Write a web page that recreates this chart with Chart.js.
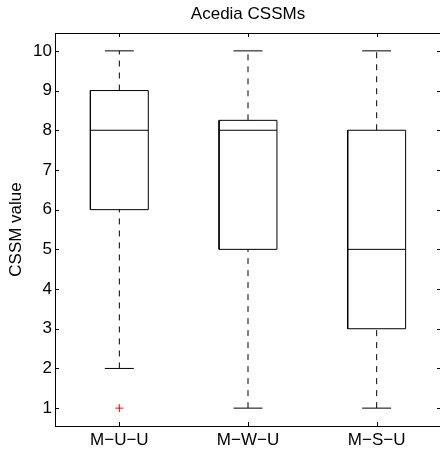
<!DOCTYPE html>
<html>
<head>
<meta charset="utf-8">
<script src="https://cdn.jsdelivr.net/npm/chart.js@4/dist/chart.umd.min.js"></script>
<style>
  html, body { margin: 0; padding: 0; background: #fff; overflow: hidden; }
  canvas { display: block; }
</style>
</head>
<body>
<canvas id="c" width="446" height="454"></canvas>
<script>
// ---- data ----
const categories   = ['M\u2212U\u2212U', 'M\u2212W\u2212U', 'M\u2212S\u2212U'];
const whiskerLow   = [2, 1, 1];
const q1           = [6, 5, 3];
const median       = [8, 8, 5];
const q3           = [9, 8.25, 8];
const whiskerHigh  = [10, 10, 10];
const outliers     = [[1], [], []];
const yTicks       = [1, 2, 3, 4, 5, 6, 7, 8, 9, 10];
const titleText    = 'Acedia CSSMs';
const yTitleText   = 'CSSM value';

// ---- styles ----
const BOX_HALF = 0.225;
const CAP_HALF = 0.1125;
const FONT = { family: '"Liberation Sans", Arial, Helvetica, sans-serif', size: 17, weight: 'normal' };
const INK = '#000';

const datasets = [];
const lineBase = { showLine: true, pointRadius: 0, borderWidth: 1, borderColor: INK, tension: 0, fill: false };
categories.forEach((cat, i) => {
  const c = i + 1;
  datasets.push(Object.assign({ label: 'box' + c, data: [
    { x: c - BOX_HALF, y: q1[i] }, { x: c + BOX_HALF, y: q1[i] },
    { x: c + BOX_HALF, y: q3[i] }, { x: c - BOX_HALF, y: q3[i] },
    { x: c - BOX_HALF, y: q1[i] } ] }, lineBase));
  datasets.push(Object.assign({ label: 'med' + c, data: [
    { x: c - BOX_HALF, y: median[i] }, { x: c + BOX_HALF, y: median[i] } ] }, lineBase));
  datasets.push(Object.assign({ label: 'wu' + c, borderDash: [6, 6], data: [
    { x: c, y: q3[i] }, { x: c, y: whiskerHigh[i] } ] }, lineBase));
  datasets.push(Object.assign({ label: 'wl' + c, borderDash: [6, 6], data: [
    { x: c, y: whiskerLow[i] }, { x: c, y: q1[i] } ] }, lineBase));
  datasets.push(Object.assign({ label: 'cu' + c, data: [
    { x: c - CAP_HALF, y: whiskerHigh[i] }, { x: c + CAP_HALF, y: whiskerHigh[i] } ] }, lineBase));
  datasets.push(Object.assign({ label: 'cl' + c, data: [
    { x: c - CAP_HALF, y: whiskerLow[i] }, { x: c + CAP_HALF, y: whiskerLow[i] } ] }, lineBase));
  if (outliers[i].length) {
    datasets.push({ label: 'out' + c, showLine: false, pointStyle: 'cross', pointRadius: 4,
      borderColor: '#ff0000', borderWidth: 1, data: outliers[i].map(v => ({ x: c, y: v })) });
  }
});

const frameTicks = {
  id: 'frameTicks',
  afterDraw(chart) {
    const { ctx, chartArea: a, scales } = chart;
    const L = 4;
    ctx.save();
    ctx.strokeStyle = INK;
    ctx.lineWidth = 1;
    ctx.strokeRect(Math.round(a.left) + 0.5, Math.round(a.top) + 0.5,
                   Math.round(a.right - a.left), Math.round(a.bottom - a.top));
    ctx.beginPath();
    yTicks.forEach(v => {
      const y = Math.round(scales.y.getPixelForValue(v)) + 0.5;
      ctx.moveTo(a.left, y); ctx.lineTo(a.left + L, y);
      ctx.moveTo(a.right, y); ctx.lineTo(a.right - L, y);
    });
    categories.forEach((cat, i) => {
      const x = Math.round(scales.x.getPixelForValue(i + 1)) + 0.5;
      ctx.moveTo(x, a.bottom); ctx.lineTo(x, a.bottom - L);
      ctx.moveTo(x, a.top); ctx.lineTo(x, a.top + L);
    });
    ctx.stroke();
    ctx.restore();
  }
};

new Chart(document.getElementById('c'), {
  type: 'scatter',
  data: { datasets },
  plugins: [frameTicks],
  options: {
    responsive: false,
    animation: false,
    devicePixelRatio: 1,
    layout: { padding: { left: 0, right: 5, top: 0, bottom: 0 } },
    plugins: {
      legend: { display: false },
      tooltip: { enabled: false },
      title: { display: true, fullSize: false, text: titleText, color: INK, font: FONT, padding: { top: 4, bottom: 8.6 } }
    },
    scales: {
      x: {
        type: 'linear', min: 0.5, max: 3.5,
        grid: { display: false, drawTicks: false },
        border: { display: false },
        afterBuildTicks: s => { s.ticks = categories.map((c, i) => ({ value: i + 1 })); },
        afterFit: s => { s.height = 28; },
        ticks: { color: INK, font: FONT, padding: 4, maxRotation: 0, autoSkip: false,
                 callback: v => categories[Math.round(v) - 1] }
      },
      y: {
        type: 'linear', min: 0.55, max: 10.45,
        grid: { display: false, drawTicks: false },
        border: { display: false },
        afterBuildTicks: s => { s.ticks = yTicks.map(v => ({ value: v })); },
        afterFit: s => { s.width = 55; },
        ticks: { color: INK, font: FONT, padding: 3, autoSkip: false },
        title: { display: true, text: yTitleText, color: INK, font: FONT, padding: { top: 6, bottom: 0 } }
      }
    }
  }
});
</script>
</body>
</html>
